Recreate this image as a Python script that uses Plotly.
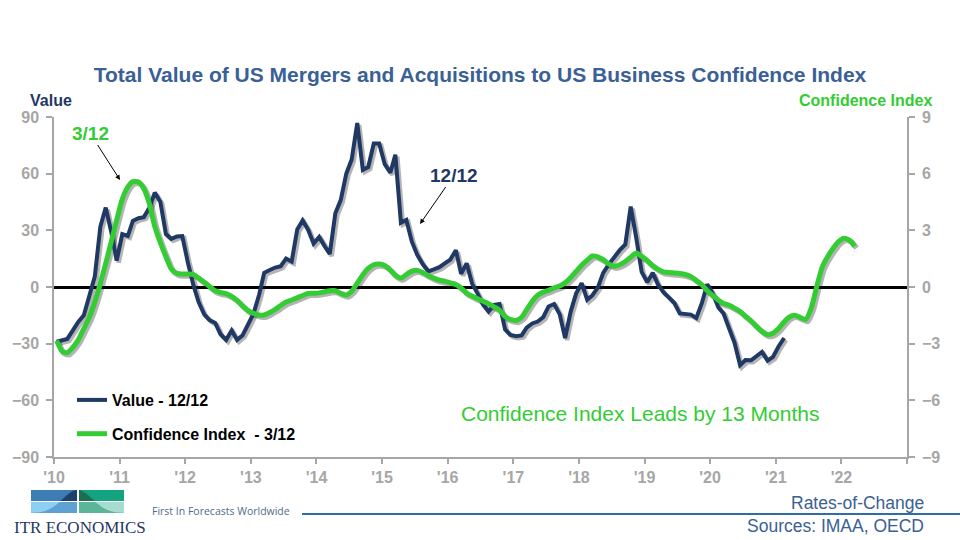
import datetime as dt
import numpy as np
import plotly.graph_objects as go

# ---------------- data ----------------
value_12_12 = [
    -29, -28, -27.5, -23, -18.5, -15, -5, 5.5, 32, 42, 29, 14,
    28, 27, 35, 36.4, 37, 42, 50, 45, 28, 25.5, 26.8, 27,
    13, 1, -8, -14.5, -17.5, -19, -25, -28, -23, -28, -25.5, -20,
    -14, -4, 7.5, 9, 10.3, 11, 15, 13.5, 30.5, 35.2, 30.2, 23,
    26.5, 21.5, 17.5, 39, 46, 60, 67.5, 86.8, 62, 63.5, 76, 76,
    65, 60.5, 70, 34, 35.5, 24, 17, 12, 8.3, 9.3, 10.5, 12.5,
    14.5, 19.5, 7, 12.5, 1.8, -3.5, -9.3, -13, -9.4, -9, -22.5, -25.4,
    -26, -25.6, -21.5, -19.3, -18.3, -16, -10.3, -9, -14.5, -27, -13, -3.5,
    2, -6.8, -4.5, -0.3, 7.5, 12, 16, 19.5, 22.5, 42.6, 26, 8,
    2.5, 7.5, 1.5, -2.8, -5.5, -8.5, -14, -14.2, -14.6, -16.4, -8.6, 1.5,
    -3.5, -10.8, -14, -22, -29.5, -41.4, -38.7, -38.8, -36.5, -34.4, -39, -37,
    -31.5, -27,
]

confidence_3_12 = [
    -2.85, -3.42, -3.48, -3.2, -2.8, -2.2, -1.62, -0.8, 0.2, 1.25, 2.4, 3.55,
    4.65, 5.3, 5.58, 5.56, 5.2, 4.4, 3.2, 2.35, 1.6, 0.95, 0.72, 0.69,
    0.69, 0.66, 0.48, 0.25, 0.03, -0.2, -0.29, -0.35, -0.5, -0.71, -1.0, -1.25,
    -1.4, -1.48, -1.48, -1.35, -1.18, -0.98, -0.8, -0.69, -0.57, -0.45, -0.34, -0.33,
    -0.31, -0.25, -0.2, -0.2, -0.34, -0.42, -0.22, 0.2, 0.65, 0.98, 1.18, 1.22,
    1.14, 0.9, 0.62, 0.47, 0.66, 0.84, 0.88, 0.77, 0.6, 0.47, 0.36, 0.31,
    0.22, 0.13, -0.05, -0.33, -0.48, -0.62, -0.75, -0.88, -1.05, -1.22, -1.57, -1.72,
    -1.77, -1.6, -1.2, -0.75, -0.43, -0.27, -0.18, -0.05, 0.05, 0.22, 0.5, 0.82,
    1.15, 1.42, 1.64, 1.6, 1.45, 1.22, 1.1, 1.18, 1.35, 1.58, 1.8, 1.62,
    1.4, 1.12, 0.95, 0.8, 0.77, 0.74, 0.71, 0.66, 0.55, 0.35, 0.12, -0.2,
    -0.45, -0.7, -0.87, -0.97, -1.12, -1.3, -1.55, -1.8, -2.1, -2.35, -2.52, -2.45,
    -2.2, -1.85, -1.6, -1.5, -1.61, -1.72, -1.15, 0.0, 1.05, 1.6, 2.05, 2.4,
    2.58, 2.47, 2.16,
]

start_year = 2010
year_tick_vals = [f"{y}-01-01" for y in range(2010, 2024)]
year_tick_text = ["'10", "'11", "'12", "'13", "'14", "'15", "'16", "'17",
                  "'18", "'19", "'20", "'21", "'22", ""]
left_ticks = [-90, -60, -30, 0, 30, 60, 90]
right_ticks = [-9, -6, -3, 0, 3, 6, 9]


def month_dates(n):
    return [f"{start_year + i // 12}-{i % 12 + 1:02d}-16" for i in range(n)]


value_dates = month_dates(len(value_12_12))
conf_dates = month_dates(len(confidence_3_12))

# ---------------- styling ----------------
NAVY = "#1F3864"
GREEN = "#33CC33"
GREY = "#A6A6A6"
TITLE_BLUE = "#3A6095"
FONT = "Liberation Sans"
SHADOW = "rgba(40,40,40,0.35)"

W, H = 960, 540
L, R, T, B = 54, 53, 117, 83
PW, PH = W - L - R, H - T - B


def px(x):
    return (x - L) / PW


def py(y):
    return (H - B - y) / PH


fig = go.Figure()

# shadow traces (base, hidden axes shifted ~2px right/down)
fig.add_trace(go.Scatter(x=value_dates, y=value_12_12, mode="lines",
                         line=dict(color=SHADOW, width=4.5), xaxis="x", yaxis="y",
                         showlegend=False, hoverinfo="skip"))
fig.add_trace(go.Scatter(x=conf_dates, y=confidence_3_12, mode="lines",
                         line=dict(color=SHADOW, width=5.5, shape="spline", smoothing=0.6),
                         xaxis="x", yaxis="y2", showlegend=False, hoverinfo="skip"))

# main traces
fig.add_trace(go.Scatter(x=value_dates, y=value_12_12, mode="lines",
                         name="Value - 12/12", legendgroup="a",
                         line=dict(color=NAVY, width=4), xaxis="x2", yaxis="y3"))
fig.add_trace(go.Scatter(x=conf_dates, y=confidence_3_12, mode="lines",
                         name="Confidence Index  - 3/12", legendgroup="b",
                         line=dict(color=GREEN, width=5, shape="spline", smoothing=0.6),
                         xaxis="x2", yaxis="y4"))

# pixel-shift for shadow axes
days_per_px = 365.25 / (PW / 13)
shift_days = 2 * days_per_px
x0 = dt.datetime(2010, 1, 1) - dt.timedelta(days=shift_days)
x1 = dt.datetime(2023, 1, 1) - dt.timedelta(days=shift_days)
dy_left = 2 * 180 / PH
dy_right = 2 * 18 / PH

tickfont = dict(family=FONT, size=16, color=GREY, weight="bold")

fig.update_layout(
    width=W, height=H, autosize=False,
    margin=dict(l=L, r=R, t=T, b=B),
    paper_bgcolor="white", plot_bgcolor="rgba(0,0,0,0)",
    font=dict(family=FONT),
    xaxis=dict(range=[x0, x1], visible=False, domain=[0, 1], anchor="y"),
    yaxis=dict(range=[-90 + dy_left, 90 + dy_left], visible=False, domain=[0, 1]),
    yaxis2=dict(range=[-9 + dy_right, 9 + dy_right], visible=False, overlaying="y", anchor="x"),
    xaxis2=dict(range=["2010-01-01", "2023-01-01"], overlaying="x", anchor="y3", side="bottom",
                tickmode="array", tickvals=year_tick_vals, ticktext=year_tick_text,
                showline=True, linecolor=GREY, linewidth=1.5,
                ticks="outside", ticklen=5, tickcolor=GREY, tickwidth=1.5,
                tickfont=tickfont, showgrid=False, zeroline=False, ticklabelstandoff=0),
    yaxis3=dict(range=[-90, 90], overlaying="y", anchor="x2", side="left",
                tickmode="array", tickvals=left_ticks,
                showline=True, linecolor=GREY, linewidth=1.5,
                ticks="outside", ticklen=6, tickcolor=GREY, tickwidth=1.5,
                tickfont=tickfont, showgrid=False,
                zeroline=True, zerolinecolor="black", zerolinewidth=2.5, ticklabelstandoff=4),
    yaxis4=dict(range=[-9, 9], overlaying="y", anchor="x2", side="right",
                tickmode="array", tickvals=right_ticks,
                showline=True, linecolor=GREY, linewidth=1.5,
                ticks="outside", ticklen=6, tickcolor=GREY, tickwidth=1.5,
                tickfont=tickfont, showgrid=False, zeroline=False, ticklabelstandoff=4),
    title=dict(text="Total Value of US Mergers and Acquisitions to US Business Confidence Index",
               font=dict(family=FONT, size=21, color=TITLE_BLUE, weight="bold"),
               x=0.5, xref="container", xanchor="center",
               y=1 - 75 / H, yref="container", yanchor="middle"),
    legend=dict(x=px(72), y=py(383), xanchor="left", yanchor="top",
                bgcolor="rgba(0,0,0,0)", traceorder="grouped", tracegroupgap=10,
                itemwidth=30,
                font=dict(family=FONT, size=16, color="black", weight="bold")),
    showlegend=True,
)

ann = []
ann.append(dict(x=px(28), y=py(101), xref="paper", yref="paper", xanchor="left", yanchor="middle",
                text="Value", showarrow=False,
                font=dict(family=FONT, size=16, color=NAVY, weight="bold")))
ann.append(dict(x=px(934), y=py(101), xref="paper", yref="paper", xanchor="right", yanchor="middle",
                text="Confidence Index", showarrow=False,
                font=dict(family=FONT, size=16, color=GREEN, weight="bold")))
ann.append(dict(x=px(120), y=py(180), xref="paper", yref="paper",
                ax=90 - 120, ay=133 - 180, axref="pixel", ayref="pixel",
                text="3/12", showarrow=True, arrowhead=2, arrowsize=1, arrowwidth=1,
                arrowcolor="black",
                font=dict(family=FONT, size=19, color=GREEN, weight="bold")))
ann.append(dict(x=px(420), y=py(224), xref="paper", yref="paper",
                ax=454 - 420, ay=175 - 224, axref="pixel", ayref="pixel",
                text="12/12", showarrow=True, arrowhead=2, arrowsize=1, arrowwidth=1,
                arrowcolor="black",
                font=dict(family=FONT, size=19, color=NAVY, weight="bold")))
ann.append(dict(x=px(639.5), y=py(413), xref="paper", yref="paper", xanchor="center", yanchor="middle",
                text="Confidence Index Leads by 13 Months", showarrow=False,
                font=dict(family=FONT, size=21, color=GREEN)))
# footer
ann.append(dict(x=px(926), y=py(503), xref="paper", yref="paper", xanchor="right", yanchor="middle",
                text="Rates-of-Change", showarrow=False,
                font=dict(family=FONT, size=17.5, color=TITLE_BLUE)))
ann.append(dict(x=px(926), y=py(526), xref="paper", yref="paper", xanchor="right", yanchor="middle",
                text="Sources: IMAA, OECD", showarrow=False,
                font=dict(family=FONT, size=17.5, color=TITLE_BLUE)))
ann.append(dict(x=px(150), y=py(511), xref="paper", yref="paper", xanchor="left", yanchor="middle",
                text="First In Forecasts Worldwide", showarrow=False,
                font=dict(family="Open Sans", size=10.5, color="#4F6B8C")))
ann.append(dict(x=px(12), y=py(527), xref="paper", yref="paper", xanchor="left", yanchor="middle",
                text="ITR ECONOMICS", showarrow=False,
                font=dict(family="Liberation Serif", size=17, color=NAVY)))
fig.update_layout(annotations=ann)

# footer shapes: rule + logo
shapes = []
shapes.append(dict(type="line", xref="paper", yref="paper", x0=px(302), x1=px(960),
                   y0=py(514), y1=py(514), line=dict(color="#2F6EA5", width=2)))


def rect(xa, ya, xb, yb, color):
    return dict(type="rect", xref="paper", yref="paper", x0=px(xa), x1=px(xb),
                y0=py(ya), y1=py(yb), fillcolor=color, line=dict(width=0), layer="above")


shapes += [rect(31, 490, 77, 501, "#3C7DB5"), rect(79, 490, 124, 501, "#14A37F"),
           rect(31, 502, 77, 513, "#8ED0F2"), rect(79, 502, 124, 513, "#A6DDD0")]


def curve(x):
    return 513 - 23 * np.exp(-((x - 77.5) / 21.0) ** 2)


def poly(points, color):
    d = "M " + " L ".join(f"{px(a):.5f},{py(b):.5f}" for a, b in points) + " Z"
    return dict(type="path", path=d, xref="paper", yref="paper", fillcolor=color,
                line=dict(width=0), layer="above")


xs_l = np.linspace(31, 77, 24)
xs_r = np.linspace(79, 124, 24)
top_l = [(x, min(max(curve(x), 490), 501)) for x in xs_l] + [(77, 501), (31, 501)]
top_r = [(x, min(max(curve(x), 490), 501)) for x in xs_r] + [(124, 501), (79, 501)]
bot_l = [(x, min(max(curve(x), 502), 513)) for x in xs_l] + [(77, 513), (31, 513)]
bot_r = [(x, min(max(curve(x), 502), 513)) for x in xs_r] + [(124, 513), (79, 513)]
shapes += [poly(top_l, "#1F3F6E"), poly(top_r, "#1C6E50"),
           poly(bot_l, "#5EA2D3"), poly(bot_r, "#5BB598")]
fig.update_layout(shapes=shapes)

fig.write_html("out.html", config={"displayModeBar": False},
               post_script="document.body.style.margin='0px';")
